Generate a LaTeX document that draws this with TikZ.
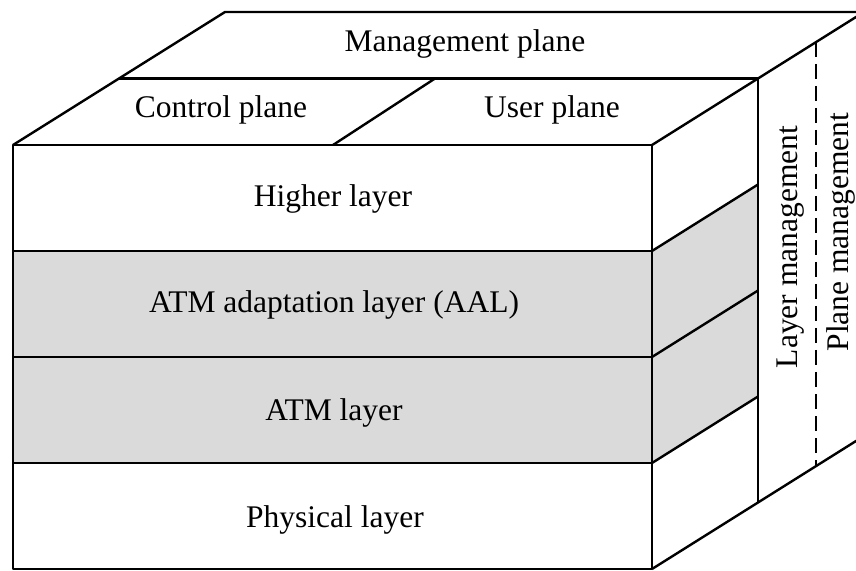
\documentclass[tikz,border=0pt]{standalone}
\usepackage{fontspec}
\setmainfont{Liberation Serif}
\definecolor{bandgray}{RGB}{218,218,218}
\begin{document}
\begin{tikzpicture}[x=0.5pt,y=-0.5pt,
  edge/.style={line width=1.2pt,line join=round},
  lbl/.style={font=\fontsize{15.75}{18}\selectfont,inner sep=0pt,anchor=base},
  vlbl/.style={lbl,rotate=90}]
\clip (0,0) rectangle (856,571);
\useasboundingbox (0,0) rectangle (856,571);
% shaded bands
\fill[bandgray] (13,251) rectangle (652,463);
\fill[bandgray] (652,251) -- (758,184.5) -- (758,396.5) -- (652,463) -- cycle;
% front face
\draw[edge] (13,145) rectangle (652,569);
\draw[edge] (13,251) -- (652,251);
\draw[edge] (13,357) -- (652,357);
\draw[edge] (13,463) -- (652,463);
% top face
\draw[edge] (13,145) -- (225,12) -- (864,12);
\draw[edge] (119,78.5) -- (758,78.5);
\draw[edge] (333,145) -- (435,78.5);
% right side
\draw[edge] (652,145) -- (864,12);
\draw[edge] (652,569) -- (864,436);
\draw[edge] (758,78.5) -- (758,502.5);
\draw[edge] (652,251) -- (758,184.5);
\draw[edge] (652,357) -- (758,290.5);
\draw[edge] (652,463) -- (758,396.5);
\draw[edge,dash pattern=on 7.5pt off 3.5pt] (816,42) -- (816,466);
% labels
\node[lbl] (mgmt) at (465,52) {Management plane};
\node[lbl] (ctrl) at (221,118) {Control plane};
\node[lbl] (user) at (552,118) {User plane};
\node[lbl] (high) at (333,207) {Higher layer};
\node[lbl] (aal) at (334,313) {ATM adaptation layer (AAL)};
\node[lbl] (atm) at (334,420) {ATM layer};
\node[lbl] (phys) at (335,527) {Physical layer};
\node[vlbl] (lm) at (797,247) {Layer management};
\node[vlbl] (pm) at (848,232) {Plane management};
\end{tikzpicture}
\end{document}
